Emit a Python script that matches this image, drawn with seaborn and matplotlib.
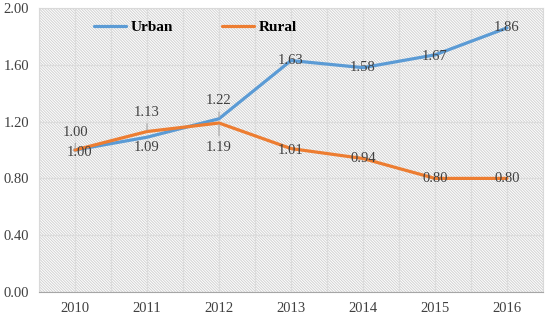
import pandas as pd
import seaborn as sns
import matplotlib.pyplot as plt
from matplotlib.patches import Rectangle

# data
years = ['2010', '2011', '2012', '2013', '2014', '2015', '2016']
urban = [1.00, 1.09, 1.22, 1.63, 1.58, 1.67, 1.86]
rural = [1.00, 1.13, 1.19, 1.01, 0.94, 0.80, 0.80]

df = pd.DataFrame({'Year': years * 2,
                   'Value': urban + rural,
                   'Area': ['Urban'] * 7 + ['Rural'] * 7})

sns.set_style('white')
plt.rcParams['font.family'] = ['Liberation Serif', 'DejaVu Serif']
plt.rcParams['hatch.linewidth'] = 0.7

fig = plt.figure(figsize=(5.46, 3.18), dpi=100)
ax = fig.add_axes([39 / 546, 26 / 318, 504 / 546, 284 / 318])

# hatched plot background
ax.add_patch(Rectangle((0, 0), 1, 1, transform=ax.transAxes,
                       facecolor='white', edgecolor='#d2d2d2',
                       hatch='\\' * 12, linewidth=0, zorder=0))

sns.lineplot(data=df, x='Year', y='Value', hue='Area',
             palette={'Urban': '#5b9bd5', 'Rural': '#ed7d31'},
             linewidth=2.3, ax=ax, sort=False, zorder=3)

ax.set_xlim(-0.5, 6.5)
ax.set_ylim(0, 2.0)
ax.set_yticks([0, 0.4, 0.8, 1.2, 1.6, 2.0])
ax.set_yticklabels([f'{v:.2f}' for v in [0, 0.4, 0.8, 1.2, 1.6, 2.0]])
ax.set_xticks(range(len(years)))
ax.set_xticklabels(years)
ax.set_xticks([i + 0.5 for i in range(-1, 7)], minor=True)
ax.grid(True, which='both', axis='x', color='#dcdcdc', linewidth=0.9, zorder=1)
ax.grid(True, which='major', axis='y', color='#dcdcdc', linewidth=0.9, zorder=1)
ax.tick_params(axis='both', which='both', length=0, labelsize=10.5,
               labelcolor='#404040', pad=7)
ax.set_xlabel('')
ax.set_ylabel('')
for s in ax.spines.values():
    s.set_color('#d9d9d9')
ax.spines['bottom'].set_color('#a6a6a6')

# data labels: (index, value, dx px, dy px, leader line)
def label(i, v, dx, dy, leader=False):
    kw = dict(arrowprops=dict(arrowstyle='-', color='#a6a6a6', lw=0.8,
                              shrinkA=1, shrinkB=1)) if leader else {}
    ax.annotate(f'{v:.2f}', (i, v), xytext=(dx * 0.72, dy * 0.72),
                textcoords='offset points', ha='center', va='center',
                fontsize=10.5, color='#404040', zorder=4, **kw)

urban_off = [(5, -2, False), (0, -10, False), (0, 18, True), (0, 0, False),
             (0, 0, False), (0, -2, False), (0, 0, False)]
rural_off = [(1, 18, True), (0, 19, True), (0, -24, True), (0, -2, False),
             (0, 0, False), (0, 0, False), (0, 0, False)]
for i, (v, o) in enumerate(zip(urban, urban_off)):
    label(i, v, *o)
for i, (v, o) in enumerate(zip(rural, rural_off)):
    label(i, v, *o)

leg = ax.legend(loc='center', bbox_to_anchor=(0.31, 0.933), ncol=2,
                frameon=False, handlelength=2.1, handletextpad=0.3,
                columnspacing=3.2,
                prop={'weight': 'bold', 'size': 11})
for t in leg.get_texts():
    t.set_color('#000000')

plt.savefig('out.png', dpi=100)
plt.close()
